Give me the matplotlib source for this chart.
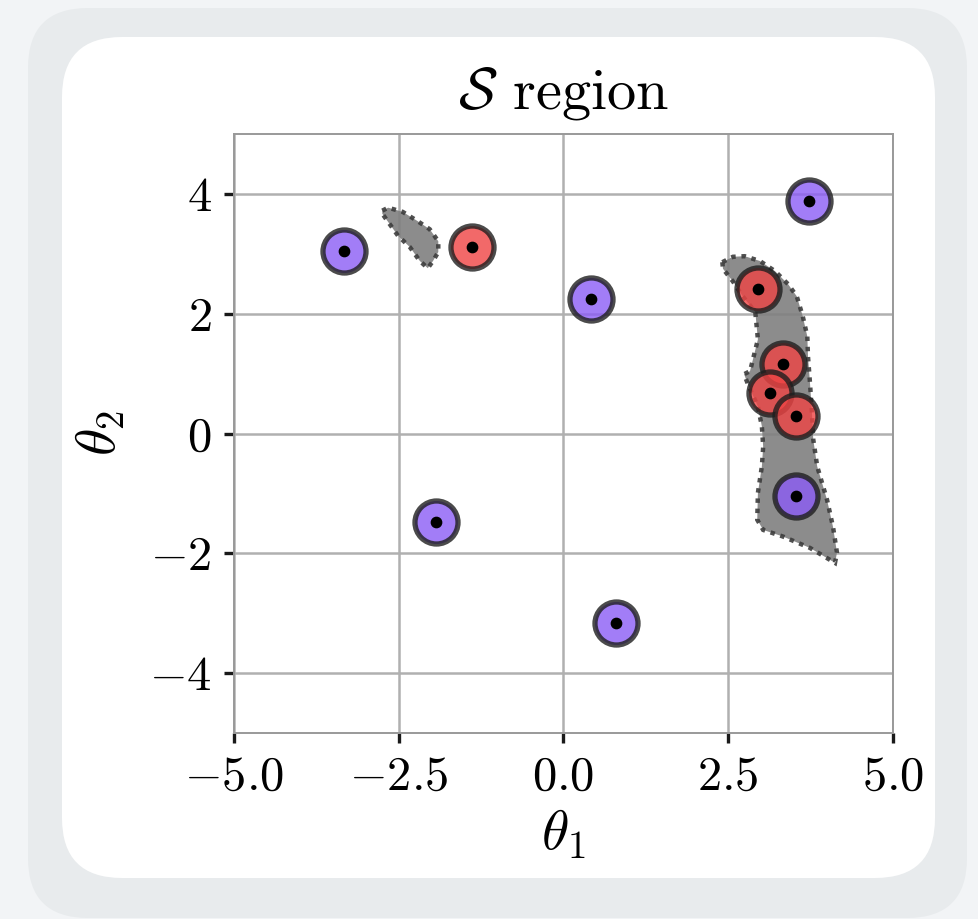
import matplotlib
matplotlib.use("Agg")
import matplotlib.pyplot as plt
from matplotlib.patches import FancyBboxPatch, Polygon
from matplotlib.ticker import FuncFormatter

# sample points (theta1, theta2)
purple_x = [-3.33, 3.73, 0.42, -1.93, 0.80, 3.53]
purple_y = [3.05, 3.88, 2.24, -1.47, -3.16, -1.04]
red_x = [-1.39, 2.95, 3.33, 3.13, 3.53]
red_y = [3.11, 2.41, 1.16, 0.67, 0.30]

# outlines of the S region (two pieces)
region_a_x = [-2.75, -2.66, -2.44, -2.22, -2.03, -1.90, -1.90, -1.98, -2.06, -2.18, -2.33, -2.51, -2.66, -2.75]
region_a_y = [3.72, 3.77, 3.70, 3.55, 3.41, 3.21, 3.03, 2.88, 2.76, 2.88, 3.11, 3.30, 3.53, 3.67]
region_b_x = [2.41, 2.57, 2.75, 2.98, 3.21, 3.41, 3.54, 3.63, 3.70, 3.71, 3.74, 3.77, 3.79, 3.85,
              4.00, 4.09, 4.15, 4.12, 3.74, 3.33, 3.03, 2.94, 2.95, 3.01, 3.03, 3.01, 2.95, 2.80,
              2.74, 2.83, 2.95, 2.91, 2.72, 2.57, 2.42]
region_b_y = [2.86, 2.95, 2.96, 2.88, 2.71, 2.49, 2.29, 1.96, 1.62, 1.29, 0.85, 0.35, -0.10, -0.55,
              -1.11, -1.56, -1.99, -2.16, -1.91, -1.72, -1.61, -1.44, -0.99, -0.55, -0.22, 0.12, 0.45, 0.82,
              0.99, 1.04, 1.57, 2.03, 2.29, 2.54, 2.75]

x_ticks = [-5.0, -2.5, 0.0, 2.5, 5.0]
y_ticks = [-4, -2, 0, 2, 4]

PURPLE = "#8b5cf6"
RED = "#ef4444"

plt.rcParams["font.family"] = "serif"
plt.rcParams["font.serif"] = ["cmr10"]
plt.rcParams["mathtext.fontset"] = "cm"
plt.rcParams["axes.formatter.use_mathtext"] = True

fig = plt.figure(figsize=(9.79, 9.19), dpi=100, facecolor="#f2f4f6")
W, H = 979, 919

def card(x0, y0, x1, y1, color, r=60):
    # pixel box (top-left origin) -> figure fraction
    p = FancyBboxPatch((x0 / W, 1 - y1 / H), (x1 - x0) / W, (y1 - y0) / H,
                       boxstyle=f"round,pad=0,rounding_size={r / W}",
                       mutation_aspect=W / H, transform=fig.transFigure,
                       facecolor=color, edgecolor="none", zorder=-5)
    fig.patches.append(p)

card(28, 8, 967, 918, "#e8ebed")
card(62, 37, 935, 878, "white")

ax = fig.add_axes([234 / W, 1 - 733 / H, 659 / W, 599 / H])
ax.set_zorder(2)
ax.set_facecolor("white")
ax.set_axisbelow(True)
ax.grid(True, color="#b0b0b0", linewidth=1.8)

for rx, ry in [(region_a_x, region_a_y), (region_b_x, region_b_y)]:
    poly = Polygon(list(zip(rx, ry)), closed=True, facecolor="#808080", alpha=0.9,
                   edgecolor="#3c3c3c", linestyle=(0, (1, 1.3)), linewidth=3.2, zorder=2)
    ax.add_patch(poly)

ax.scatter(purple_x, purple_y, s=960, c=PURPLE, alpha=0.8, edgecolors="#1e1e1e",
           linewidths=3.8, zorder=3)
ax.scatter(red_x, red_y, s=960, c=RED, alpha=0.8, edgecolors="#1e1e1e",
           linewidths=3.8, zorder=3)
ax.scatter(purple_x + red_x, purple_y + red_y, s=55, c="black", zorder=4)

ax.set_xlim(-5, 5)
ax.set_ylim(-5, 5)
ax.set_xticks(x_ticks)
ax.set_yticks(y_ticks)
ax.xaxis.set_major_formatter(FuncFormatter(lambda v, p: f"${v:.1f}$"))
ax.yaxis.set_major_formatter(FuncFormatter(lambda v, p: f"${v:.0f}$"))
ax.tick_params(labelsize=35, length=7, width=2.4, color="#1a1a1a", pad=9)
for s in ax.spines.values():
    s.set_color("#999999")
    s.set_linewidth(1.4)

ax.set_title(r"$\mathcal{S}$ region", fontsize=42, pad=18)
ax.set_xlabel(r"$\theta_1$", fontsize=40, labelpad=6)
ax.set_ylabel(r"$\theta_2$", fontsize=40, labelpad=16)

fig.savefig("out.png", dpi=100, facecolor=fig.get_facecolor())
